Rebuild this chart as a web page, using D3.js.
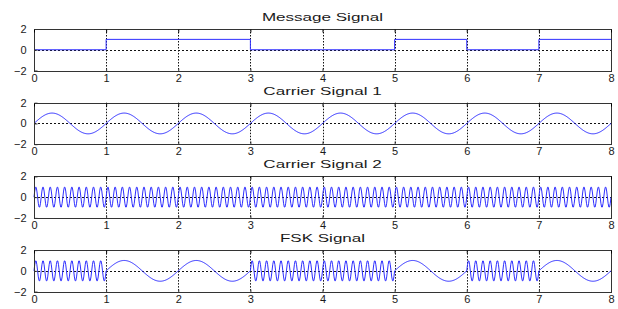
<!DOCTYPE html>
<html>
<head>
<meta charset="utf-8">
<script src="https://cdn.jsdelivr.net/npm/d3@7"></script>
<style>
  html, body { margin: 0; padding: 0; background: #fff; }
  svg { display: block; }
  text { font-family: "Liberation Sans", Arial, sans-serif; fill: #1a1a1a; }
</style>
</head>
<body>
<svg id="chart" width="618" height="309"></svg>
<script>
(function () {
  'use strict';

  // ── Data ────────────────────────────────────────────────────────────────────
  var TITLES = ['Message Signal', 'Carrier Signal 1', 'Carrier Signal 2', 'FSK Signal'];
  var BITS = [0, 1, 1, 0, 0, 1, 0, 1];          // message bit per unit interval
  var CARRIER_FREQ = [1, 10];                   // cycles per bit: carrier 1, carrier 2
  var X_TICKS = [0, 1, 2, 3, 4, 5, 6, 7, 8];
  var Y_TICKS = [-2, 0, 2];
  var DT = 0.01;                                // sample step, as in the source script

  var LEFT = 34, RIGHT = 611;
  var TOP0 = 29, STEP = 73.7, PH = 41.5;
  var LINE = '#2f2fff';

  var svg = d3.select('#chart');
  var x = d3.scaleLinear().domain([0, 8]).range([LEFT, RIGHT]);

  var t = d3.range(0, 8 + DT / 2, DT);

  function carrier(f) {
    return t.map(function (v) { return [v, Math.sin(2 * Math.PI * f * v)]; });
  }

  var message = BITS.map(function (b, i) { return [i, b]; }).concat([[8, BITS[7]]]);
  var fsk = t.map(function (v) {
    var bit = BITS[Math.min(7, Math.floor(v))];
    var f = bit ? CARRIER_FREQ[0] : CARRIER_FREQ[1];
    return [v, Math.sin(2 * Math.PI * f * v)];
  });

  var series = [
    { data: message, curve: d3.curveStepAfter },
    { data: carrier(CARRIER_FREQ[0]), curve: d3.curveLinear },
    { data: carrier(CARRIER_FREQ[1]), curve: d3.curveLinear },
    { data: fsk, curve: d3.curveLinear }
  ];

  function px(v) { return Math.round(v) + 0.5; }

  series.forEach(function (s, i) {
    var top = TOP0 + i * STEP;
    var y = d3.scaleLinear().domain([-2, 2]).range([top + PH, top]);
    var g = svg.append('g');

    // Title (the reference is stretched horizontally)
    var cx = (LEFT + RIGHT) / 2;
    g.append('text')
      .attr('transform', 'translate(' + cx + ',' + (top - 8) + ') scale(1.55,1)')
      .attr('text-anchor', 'middle')
      .style('font-size', '11px')
      .text(TITLES[i]);

    // Grid
    g.append('g').selectAll('line')
      .data(X_TICKS.slice(1, -1))
      .join('line')
      .attr('x1', function (d) { return px(x(d)); })
      .attr('x2', function (d) { return px(x(d)); })
      .attr('y1', y(2)).attr('y2', y(-2))
      .attr('stroke', '#111').attr('stroke-width', 1)
      .attr('stroke-dasharray', '1.5,1.5');
    g.append('line')
      .attr('x1', x(0)).attr('x2', x(8))
      .attr('y1', px(y(0))).attr('y2', px(y(0)))
      .attr('stroke', '#111').attr('stroke-width', 1)
      .attr('stroke-dasharray', '2,2');

    // Signal
    var line = d3.line()
      .x(function (d) { return x(d[0]); })
      .y(function (d) { return y(d[1]); })
      .curve(s.curve);
    g.append('path')
      .datum(s.data)
      .attr('d', line)
      .attr('fill', 'none')
      .attr('stroke', LINE)
      .attr('stroke-width', 1);

    // Box
    g.append('rect')
      .attr('x', px(x(0))).attr('y', px(y(2)))
      .attr('width', Math.round(x(8)) - Math.round(x(0)))
      .attr('height', Math.round(y(-2)) - Math.round(y(2)))
      .attr('fill', 'none')
      .attr('stroke', '#333').attr('stroke-width', 1);

    // Axes: inward ticks with labels
    var xb = Math.round(y(-2)) + 0.5;
    var xAxis = d3.axisBottom(x).tickValues(X_TICKS).tickSize(-3).tickPadding(3)
      .tickFormat(d3.format('d'));
    var ax = g.append('g').attr('transform', 'translate(0,' + xb + ')').call(xAxis);
    var xt = d3.axisTop(x).tickValues(X_TICKS).tickSize(-3).tickFormat('');
    g.append('g').attr('transform', 'translate(0,' + px(y(2)) + ')').call(xt);

    var yAxis = d3.axisLeft(y).tickValues(Y_TICKS).tickSize(-3).tickPadding(8)
      .tickFormat(d3.format('d'));
    var ay = g.append('g').attr('transform', 'translate(' + px(x(0)) + ',0)').call(yAxis);

    [ax, ay].forEach(function (a) {
      a.selectAll('.tick line').attr('stroke', '#333');
      a.selectAll('.tick text')
        .style('font-size', '11px')
        .style('font-family', '"Liberation Sans", Arial, sans-serif')
        .attr('fill', '#1a1a1a');
    });
    g.selectAll('.domain').remove();
  });
})();
</script>
</body>
</html>
